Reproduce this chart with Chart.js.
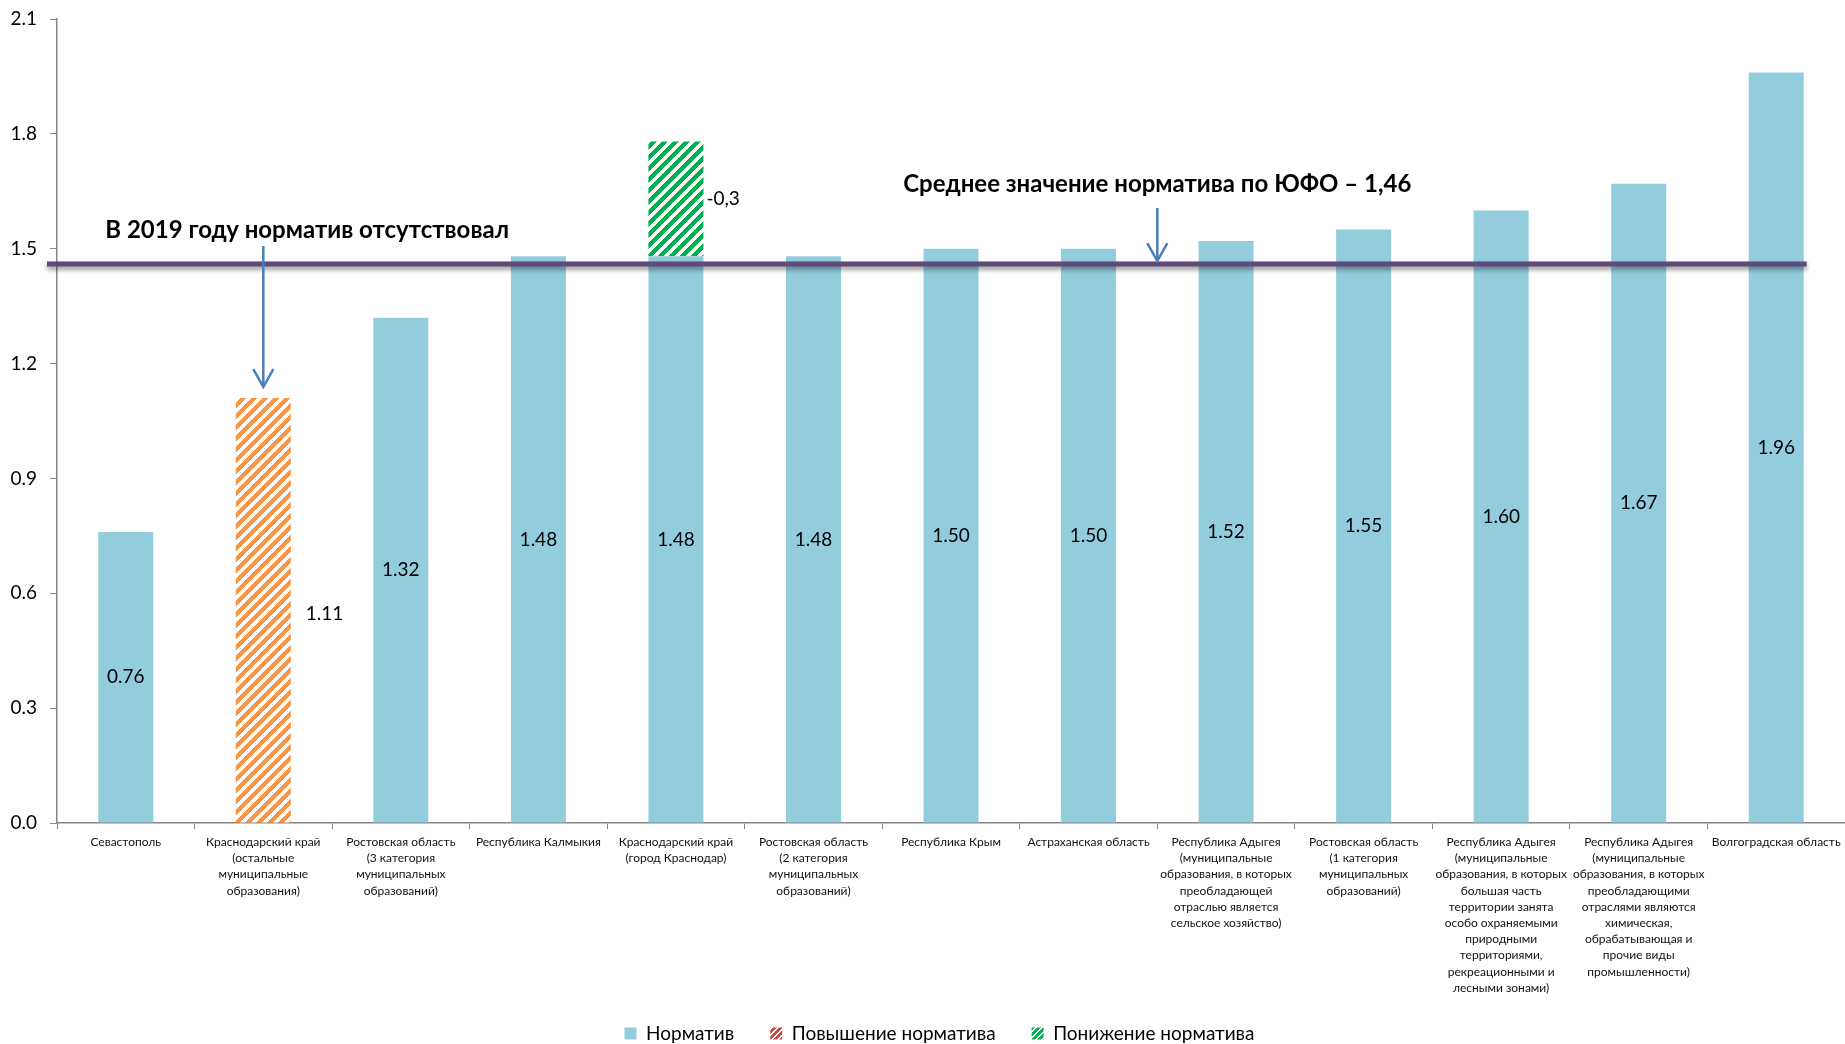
<!DOCTYPE html>
<html>
<head>
<meta charset="utf-8">
<script src="https://cdn.jsdelivr.net/npm/chart.js@4/dist/chart.umd.min.js"></script>
<style>
  html, body { margin: 0; padding: 0; background: #ffffff; }
  canvas { display: block; }
</style>
</head>
<body>
<canvas id="chart" width="1845" height="1044"></canvas>
<script>
// Regions / municipal groups along the x axis
const categories = [
  'Севастополь',
  ['Краснодарский край', '(остальные', 'муниципальные', 'образования)'],
  ['Ростовская область', '(3 категория', 'муниципальных', 'образований)'],
  'Республика Калмыкия',
  ['Краснодарский край', '(город Краснодар)'],
  ['Ростовская область', '(2 категория', 'муниципальных', 'образований)'],
  'Республика Крым',
  'Астраханская область',
  ['Республика Адыгея', '(муниципальные', 'образования, в которых', 'преобладающей', 'отраслью является', 'сельское хозяйство)'],
  ['Ростовская область', '(1 категория', 'муниципальных', 'образований)'],
  ['Республика Адыгея', '(муниципальные', 'образования, в которых', 'большая часть', 'территории занята', 'особо охраняемыми', 'природными', 'территориями,', 'рекреационными и', 'лесными зонами)'],
  ['Республика Адыгея', '(муниципальные', 'образования, в которых', 'преобладающими', 'отраслями являются', 'химическая,', 'обрабатывающая и', 'прочие виды', 'промышленности)'],
  'Волгоградская область'
];

// Series
const seriesNames = ['Норматив', 'Повышение норматива', 'Понижение норматива'];
const normValues     = [0.76, null, 1.32, 1.48, 1.48, 1.48, 1.50, 1.50, 1.52, 1.55, 1.60, 1.67, 1.96];
const increaseValues = [null, 1.11, null, null, null, null, null, null, null, null, null, null, null];
const decreaseValues = [null, null, null, null, 0.3, null, null, null, null, null, null, null, null];

// Value axis ticks
const yTickValues = [0, 0.3, 0.6, 0.9, 1.2, 1.5, 1.8, 2.1];

// District average and notes
const averageValue = [1.46];
const noteMissing = 'В 2019 году норматив отсутствовал';
const noteAverage = 'Среднее значение норматива по ЮФО – ' + averageValue[0].toFixed(2).replace('.', ',');

const FONT = "Lato, 'Open Sans', 'Noto Sans', sans-serif";

const canvas = document.getElementById('chart');
const mainCtx = canvas.getContext('2d');

// Pixel-stepped upward diagonal hatch, like an office-suite pattern fill
function hatch(color, size, stripe) {
  const tile = document.createElement('canvas');
  tile.width = size; tile.height = size;
  const g = tile.getContext('2d');
  g.fillStyle = '#ffffff';
  g.fillRect(0, 0, size, size);
  g.fillStyle = color;
  for (let py = 0; py < size; py++) {
    for (let px = 0; px < size; px++) {
      if ((px + py) % size < stripe) g.fillRect(px, py, 1, 1);
    }
  }
  return mainCtx.createPattern(tile, 'repeat');
}

const blue = '#93CDDD';
const orangeHatch = hatch('#F79646', 11, 6);
const greenHatch = hatch('#00B050', 11, 6);
const redHatch = hatch('#C0504D', 6, 4);
const greenKey = hatch('#00B050', 6, 4);
const legendFills = [blue, redHatch, greenKey];

function arrowDown(ctx, x, y0, y1) {
  ctx.beginPath();
  ctx.moveTo(x, y0);
  ctx.lineTo(x, y1);
  ctx.stroke();
  ctx.beginPath();
  ctx.moveTo(x - 10, y1 - 18);
  ctx.lineTo(x, y1);
  ctx.lineTo(x + 10, y1 - 18);
  ctx.stroke();
}

// Legend box: start a little higher, run to the canvas bottom, centred a bit right
const legendNudge = {
  id: 'legendNudge',
  afterLayout(chart) {
    const l = chart.legend;
    if (!l) return;
    l.top -= 10;
    l.bottom = chart.height;
    l.height = l.bottom - l.top;
    l.left += 17; l.right += 17;
  }
};

const overlay = {
  id: 'overlay',
  afterDatasetsDraw(chart) {
    const { ctx, chartArea, scales } = chart;
    const xs = scales.x, ys = scales.y;
    const normMeta = chart.getDatasetMeta(0);
    const incMeta = chart.getDatasetMeta(1);
    const decMeta = chart.getDatasetMeta(2);

    // District average line with soft drop shadow
    const yAvg = ys.getPixelForValue(averageValue[0]);
    const lastBar = normMeta.data[normMeta.data.length - 1];
    ctx.save();
    ctx.shadowColor = 'rgba(0,0,0,0.45)';
    ctx.shadowBlur = 5;
    ctx.shadowOffsetY = 3;
    ctx.strokeStyle = '#604A7B';
    ctx.lineWidth = 5;
    ctx.beginPath();
    ctx.moveTo(chartArea.left - 10, yAvg);
    ctx.lineTo(lastBar.x + lastBar.width / 2 + 3, yAvg);
    ctx.stroke();
    ctx.restore();

    // Value labels
    ctx.save();
    ctx.fillStyle = '#000000';
    ctx.font = `19px ${FONT}`;
    ctx.textBaseline = 'middle';
    ctx.textAlign = 'center';
    normMeta.data.forEach((bar, i) => {
      const v = normValues[i];
      if (v == null) return;
      ctx.fillText(v.toFixed(2), bar.x, (bar.y + bar.base) / 2);
    });
    ctx.textAlign = 'left';
    incMeta.data.forEach((bar, i) => {
      const v = increaseValues[i];
      if (v == null) return;
      ctx.fillText(v.toFixed(2), bar.x + bar.width / 2 + 15, (bar.y + bar.base) / 2 + 4);
    });
    decMeta.data.forEach((bar, i) => {
      const v = decreaseValues[i];
      if (v == null) return;
      ctx.fillText('-' + String(v).replace('.', ','), bar.x + bar.width / 2 + 3, (bar.y + bar.base) / 2);
    });
    ctx.restore();

    // Notes with pointer arrows
    ctx.save();
    ctx.strokeStyle = '#4A7EBB';
    ctx.lineWidth = 2.5;
    const xMissing = xs.getPixelForValue(1);
    const incBar = incMeta.data[1];
    arrowDown(ctx, xMissing, 246, incBar.y - 11);
    const xAvg = (xs.getPixelForValue(7) + xs.getPixelForValue(8)) / 2;
    arrowDown(ctx, xAvg, 208, yAvg - 3);

    ctx.fillStyle = '#000000';
    ctx.font = `bold 24px ${FONT}`;
    ctx.textBaseline = 'alphabetic';
    ctx.textAlign = 'left';
    ctx.fillText(noteMissing, xMissing - 158, 238);
    ctx.textAlign = 'center';
    ctx.fillText(noteAverage, xAvg, 192);
    ctx.restore();
  }
};

new Chart(mainCtx, {
  type: 'bar',
  data: {
    labels: categories,
    datasets: [
      { label: seriesNames[0], data: normValues, backgroundColor: blue, borderWidth: 0 },
      { label: seriesNames[1], data: increaseValues, backgroundColor: orangeHatch, borderWidth: 0 },
      { label: seriesNames[2], data: decreaseValues, backgroundColor: greenHatch, borderWidth: 0 }
    ]
  },
  options: {
    responsive: false,
    animation: false,
    devicePixelRatio: 1,
    categoryPercentage: 1,
    barPercentage: 0.4,
    layout: { padding: { top: 19, left: 0, right: 0, bottom: 0 } },
    scales: {
      x: {
        stacked: true,
        grid: { display: true, drawOnChartArea: false, drawTicks: true, tickLength: 6, color: '#868686', lineWidth: 1, offset: true },
        border: { display: true, color: '#868686', width: 1.5 },
        ticks: {
          autoSkip: false, maxRotation: 0, minRotation: 0, padding: 5,
          color: '#111111',
          font: { family: FONT, size: 12, lineHeight: 1.35 }
        },
        afterFit(scale) {
          scale.height = 175;
          scale.paddingLeft = 0; scale.paddingRight = 0;
        }
      },
      y: {
        stacked: true,
        min: 0,
        max: 2.1,
        afterBuildTicks(scale) { scale.ticks = yTickValues.map(v => ({ value: v })); },
        grid: { display: true, drawOnChartArea: false, drawTicks: true, tickLength: 7, color: '#868686' },
        border: { display: true, color: '#868686', width: 1.5 },
        ticks: {
          padding: 13,
          color: '#000000',
          font: { family: FONT, size: 19 },
          callback: (v) => Number(v).toFixed(1)
        },
        afterFit(scale) {
          scale.width = 57;
          scale.paddingTop = 0; scale.paddingBottom = 0;
        }
      }
    },
    plugins: {
      tooltip: { enabled: false },
      legend: {
        position: 'bottom',
        maxHeight: 46,
        labels: {
          font: { family: FONT, size: 19 },
          color: '#1a1a1a',
          boxWidth: 12,
          boxHeight: 12,
          padding: 36,
          generateLabels(chart) {
            return chart.data.datasets.map((ds, i) => ({
              text: ds.label,
              fillStyle: legendFills[i],
              strokeStyle: 'rgba(0,0,0,0)',
              lineWidth: 0,
              hidden: false,
              datasetIndex: i
            }));
          }
        }
      }
    }
  },
  plugins: [overlay, legendNudge]
});
</script>
</body>
</html>
